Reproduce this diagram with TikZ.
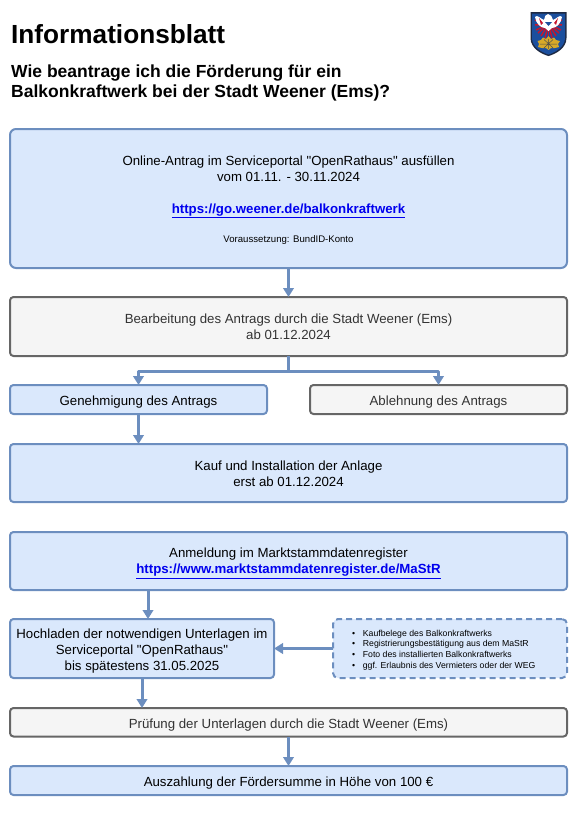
\documentclass[tikz,border=0pt]{standalone}
\usepackage{fontspec}
\setmainfont{Liberation Sans}[Ligatures=TeXReset]
\usetikzlibrary{arrows.meta,calc}
\definecolor{bfill}{HTML}{DAE8FC}
\definecolor{bline}{HTML}{6C8EBF}
\definecolor{gfill}{HTML}{F5F5F5}
\definecolor{gline}{HTML}{666666}
\definecolor{gtext}{HTML}{333333}
\definecolor{linkc}{HTML}{0000EE}
\definecolor{cblue}{HTML}{1B4F9E}
\definecolor{cdark}{HTML}{1E2A44}
\definecolor{cred}{HTML}{C5162E}
\definecolor{cyel}{HTML}{D8A928}
\newcommand{\bodyfs}{\fontsize{13.25}{16}\selectfont}
\newcommand{\lnk}[1]{\textcolor{linkc}{\bfseries\underline{#1}}}
\newcommand{\lift}[1]{\rule{0pt}{#1pt}}
\tikzset{
  basebox/.style={anchor=north west,draw,line width=2pt,rounded corners=3.5pt,align=center,inner sep=0pt,outer sep=0pt,font=\bodyfs},
  bluebox/.style={basebox,fill=bfill,draw=bline,text=black},
  graybox/.style={basebox,fill=gfill,draw=gline,text=gtext},
  dashbox/.style={basebox,fill=bfill,draw=bline,dash pattern=on 6pt off 4pt,rounded corners=5pt},
  oneline/.style={text height=15pt,text depth=3pt},
  flow/.style={draw=bline,line width=3pt,-{Triangle[length=9pt,width=10.5pt]}},
  plainflow/.style={draw=bline,line width=3pt},
  titletext/.style={anchor=west,inner sep=0pt,font=\bfseries\fontsize{26.2}{30}\selectfont},
  subtext/.style={anchor=north west,inner sep=0pt,align=left,font=\bfseries\fontsize{17.5}{20}\selectfont},
  listtext/.style={anchor=west,inner sep=0pt,align=left,font=\fontsize{8.7}{10.8}\selectfont},
}
\newcommand{\bull}[1]{\makebox[10.7pt][l]{\textbullet}#1}
\begin{document}
\begin{tikzpicture}[x=1pt,y=-1pt]
\useasboundingbox (0,0) rectangle (582,817);
\node[titletext] (title) at (11,34) {Informationsblatt};
\node[subtext] (sub) at (11,65) {Wie beantrage ich die Förderung für ein\\Balkonkraftwerk bei der Stadt Weener (Ems)?};

% crest
\begin{scope}
\fill[cdark] (530.5,12) -- (566.5,12) -- (566.5,38) .. controls (566.5,48) and (556,54) .. (548.5,56) .. controls (541,54) and (530.5,48) .. (530.5,38) -- cycle;
\fill[cblue] (532,13.5) -- (565,13.5) -- (565,38) .. controls (565,47) and (555,52.5) .. (548.5,54.5) .. controls (542,52.5) and (532,47) .. (532,38) -- cycle;
\foreach \a/\b in {535/20,535/25,536/30,538/33,541/36,545/38,548.5/39,562/20,562/25,561/30,559/33,556/36,552/38}
  \draw[line width=1.5pt,color=cred] (\a,\b) -- (548.5,24);
\fill[white] (535,17) .. controls (537,14) and (541,19) .. (544,20) .. controls (545,17) and (545,14) .. (548,14) .. controls (551,14) and (552,17) .. (553,20) .. controls (556,19) and (560,14) .. (562,17) .. controls (561,24) and (556,28) .. (552,28) -- (548.5,31) -- (545,28) .. controls (541,28) and (536,24) .. (535,17) -- cycle;
\fill[cred] (539,18) -- (543,23) -- (541,25) -- cycle (558,18) -- (554,23) -- (556,25) -- cycle;
\fill[cblue] (545,22) -- (552,22) -- (548.5,26) -- cycle;
\fill[cyel] (537.5,41) -- (541,40) -- (543,37.5) -- (546,39) -- (548.5,36) -- (551,39) -- (554,37.5) -- (556,40) -- (560,41) -- (558,44) -- (559,47) -- (555,48) -- (551,48) -- (548.5,50) -- (546,48) -- (542,48) -- (538,47) -- (539,44) -- cycle;
\draw[black!70,line width=.5pt] (540,44) -- (557,44) (544,39.5) -- (553,48) (553,39.5) -- (544,48) (548.5,39) -- (548.5,49);
\end{scope}

\node[bluebox,minimum width=557pt,minimum height=139pt,rounded corners=6pt] (a) at (10,129) {%
  \lift{12.5}Online-Antrag im Serviceportal "OpenRathaus" ausfüllen\\
  vom 01.11. - 30.11.2024\\[16pt]
  \lnk{https://go.weener.de/balkonkraftwerk}\\[13pt]
  {\fontsize{9.6}{11}\selectfont Voraussetzung: BundID-Konto}};
\node[graybox,minimum width=557pt,minimum height=59pt] (b) at (10,297) {Bearbeitung des Antrags durch die Stadt Weener (Ems)\\ab 01.12.2024};
\node[bluebox,oneline,minimum width=257pt,minimum height=29pt] (c) at (10,385) {Genehmigung des Antrags};
\node[graybox,oneline,minimum width=257pt,minimum height=29pt] (d) at (310,385) {Ablehnung des Antrags};
\node[bluebox,minimum width=557pt,minimum height=58pt] (e) at (10,444) {\lift{11.5}Kauf und Installation der Anlage\\erst ab 01.12.2024};
\node[bluebox,minimum width=557pt,minimum height=58pt] (f) at (10,532) {\lift{14.5}Anmeldung im Marktstammdatenregister\\\lnk{https://www.marktstammdatenregister.de/MaStR}};
\node[bluebox,minimum width=264pt,minimum height=59pt] (g) at (10,619) {\lift{14.5}Hochladen der notwendigen Unterlagen im\\Serviceportal "OpenRathaus"\\bis spätestens 31.05.2025};
\node[dashbox,minimum width=234pt,minimum height=59pt] (h) at (333,619) {};
\node[listtext] (hl) at (352,650) {\bull{Kaufbelege des Balkonkraftwerks}\\\bull{Registrierungsbestätigung aus dem MaStR}\\\bull{Foto des installierten Balkonkraftwerks}\\\bull{ggf. Erlaubnis des Vermieters oder der WEG}};
\node[graybox,oneline,minimum width=557pt,minimum height=28.5pt] (i) at (10,708) {Prüfung der Unterlagen durch die Stadt Weener (Ems)};
\node[bluebox,oneline,minimum width=557pt,minimum height=29pt] (j) at (10,766) {Auszahlung der Fördersumme in Höhe von 100 €};

\coordinate (xfg) at (148,600);
\coordinate (hub) at ($(b.south)+(0,15)$);
\draw[flow] (a.south) -- (b.north);
\draw[plainflow] (b.south) -- (hub);
\draw[flow,line join=round] (hub) -| (c.north);
\draw[flow,line join=round] (hub) -| (d.north);
\draw[flow] (c.south) -- (c.south |- e.north);
\draw[flow] (xfg |- f.south) -- (xfg |- g.north);
\draw[flow] (h.west) -- (g.east);
\draw[flow] (g.south) -- (g.south |- i.north);
\draw[flow] (i.south) -- (j.north);
\end{tikzpicture}
\end{document}
